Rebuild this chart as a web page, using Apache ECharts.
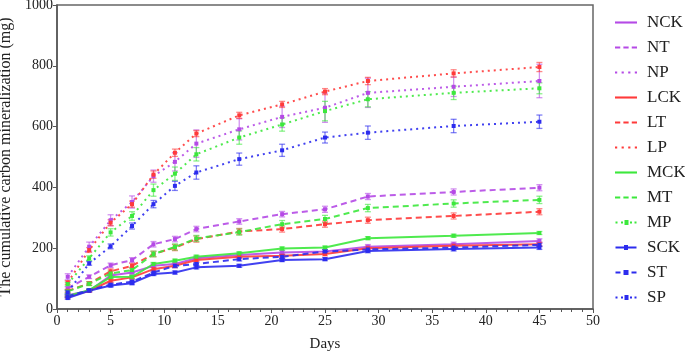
<!DOCTYPE html>
<html>
<head>
<meta charset="utf-8">
<script src="https://cdn.jsdelivr.net/npm/echarts@6/dist/echarts.min.js"></script>
<style>html,body{margin:0;padding:0;background:#fff}#c{width:685px;height:354px}</style>
</head>
<body>
<div id="c"></div>
<script>
const days = [1, 3, 5, 7, 9, 11, 13, 17, 21, 25, 29, 37, 45];
const seriesNames = ['NCK', 'NT', 'NP', 'LCK', 'LT', 'LP', 'MCK', 'MT', 'MP', 'SCK', 'ST', 'SP'];

const NCK = [45, 60, 110, 120, 142, 148, 167, 178, 186, 189, 205, 213, 224];
const NT  = [68, 106, 144, 161, 213, 230, 263, 288, 312, 328, 370, 385, 399];
const NP  = [106, 205, 292, 352, 437, 484, 544, 591, 632, 662, 711, 731, 750];
const LCK = [40, 60, 93, 104, 131, 142, 161, 172, 175, 181, 200, 208, 213];
const LT  = [60, 84, 124, 142, 181, 202, 230, 255, 263, 279, 292, 306, 320];
const LP  = [87, 194, 284, 345, 442, 514, 577, 637, 673, 715, 750, 775, 796];
const MCK = [43, 62, 105, 106, 148, 159, 172, 183, 199, 202, 233, 241, 250];
const MT  = [58, 83, 117, 128, 181, 204, 232, 253, 279, 296, 332, 347, 359];
const MP  = [82, 167, 252, 306, 391, 445, 509, 564, 607, 651, 690, 711, 726];
const SCK = [36, 60, 77, 85, 115, 120, 137, 142, 161, 164, 191, 197, 202];
const ST  = [42, 62, 80, 90, 120, 142, 148, 164, 172, 189, 196, 202, 211];
const SP  = [55, 150, 206, 273, 345, 405, 449, 493, 522, 564, 580, 602, 616];

const NCK_err = [4, 4, 5, 5, 6, 6, 6, 6, 6, 6, 7, 7, 7];
const NT_err  = [5, 6, 7, 8, 9, 9, 9, 9, 9, 10, 10, 10, 10];
const NP_err  = [10, 15, 18, 20, 20, 30, 45, 35, 35, 48, 48, 32, 55];
const LCK_err = [4, 4, 5, 5, 6, 6, 6, 6, 6, 6, 7, 7, 7];
const LT_err  = [5, 6, 8, 8, 9, 10, 10, 10, 10, 10, 10, 10, 10];
const LP_err  = [6, 8, 10, 10, 12, 12, 10, 10, 10, 10, 12, 12, 15];
const MCK_err = [4, 4, 5, 5, 5, 5, 5, 5, 5, 5, 5, 5, 5];
const MT_err  = [5, 6, 8, 9, 9, 10, 10, 10, 12, 12, 12, 12, 12];
const MP_err  = [6, 8, 12, 14, 20, 22, 22, 22, 22, 32, 25, 22, 18];
const SCK_err = [4, 4, 5, 5, 5, 5, 5, 5, 5, 5, 6, 6, 6];
const ST_err  = [4, 4, 5, 5, 6, 6, 6, 6, 6, 6, 6, 6, 6];
const SP_err  = [5, 6, 8, 10, 12, 15, 22, 20, 20, 18, 22, 22, 22];

const values = {NCK, NT, NP, LCK, LT, LP, MCK, MT, MP, SCK, ST, SP};
const errors = {NCK: NCK_err, NT: NT_err, NP: NP_err, LCK: LCK_err, LT: LT_err, LP: LP_err,
                MCK: MCK_err, MT: MT_err, MP: MP_err, SCK: SCK_err, ST: ST_err, SP: SP_err};

const PURPLE = '#B54AE6', RED = '#FF3A3A', GREEN = '#3CE83C', BLUE = '#2C2CEE';
const colorOf = n => n[0] === 'N' ? PURPLE : n[0] === 'L' ? RED : n[0] === 'M' ? GREEN : BLUE;
const kindOf = n => n.endsWith('CK') ? 'solid' : n.endsWith('T') ? 'dashed' : 'dotted';
const dotted = ['MP', 'SCK', 'ST', 'SP'];

const icons = {
  solid: 'path://M0,0h21v2h-21z',
  dashed: 'path://M0,0h5v2h-5zM8,0h5v2h-5zM16,0h5v2h-5z',
  dotted: 'path://M0,0h2v2h-2zM6,0h2v2h-2zM12,0h2v2h-2zM18,0h2v2h-2z'
};
const iconsDot = {
  solid: 'path://M0,0h21v2h-21zM8.5,-1.5h4v5h-4z',
  dashed: 'path://M0,0h5v2h-5zM8,-1.5h5v5h-5zM16,0h5v2h-5z',
  dotted: 'path://M0,0h2v2h-2zM5.5,0h2v2h-2zM9,-1.5h4v5h-4zM14.5,0h2v2h-2zM19,0h2v2h-2z'
};

const FONT = 'Liberation Serif';
const series = [];
seriesNames.forEach(n => {
  const c = colorOf(n);
  const k = kindOf(n);
  series.push({
    name: n + '_err', type: 'custom', silent: true, z: 2,
    itemStyle: {color: c},
    data: days.map((d, i) => [d, values[n][i] - errors[n][i], values[n][i] + errors[n][i]]),
    renderItem: function (params, api) {
      const lo = api.coord([api.value(0), api.value(1)]);
      const hi = api.coord([api.value(0), api.value(2)]);
      const col = api.visual('color');
      const st = {stroke: col, lineWidth: 1.3, opacity: 0.6};
      return {type: 'group', children: [
        {type: 'line', shape: {x1: lo[0], y1: lo[1], x2: hi[0], y2: hi[1]}, style: st},
        {type: 'line', shape: {x1: lo[0] - 3, y1: lo[1], x2: lo[0] + 3, y2: lo[1]}, style: st},
        {type: 'line', shape: {x1: hi[0] - 3, y1: hi[1], x2: hi[0] + 3, y2: hi[1]}, style: st}
      ]};
    }
  });
  series.push({
    name: n, type: 'line', z: 3,
    data: days.map((d, i) => [d, values[n][i]]),
    symbol: 'rect', symbolSize: 4,
    itemStyle: {color: c},
    lineStyle: {color: c, width: 2, opacity: 0.9,
      type: k === 'solid' ? 'solid' : k === 'dashed' ? [6, 4] : [2, 4]},
    emphasis: {disabled: true}
  });
});

const chart = echarts.init(document.getElementById('c'), null, {renderer: 'canvas'});
chart.setOption({
  animation: false,
  backgroundColor: '#fff',
  grid: {left: 57, right: 92, top: 5, bottom: 45, containLabel: false, outerBoundsMode: 'none',
         show: true, borderColor: '#666', borderWidth: 1.5, backgroundColor: 'transparent'},
  legend: {
    orient: 'vertical', left: 610, top: 9, itemWidth: 22, itemHeight: 5, itemGap: 8,
    selectedMode: false,
    textStyle: {fontFamily: FONT, fontSize: 17, color: '#222', lineHeight: 17, padding: [0, 0, 0, 5]},
    data: seriesNames.map(n => ({name: n, icon: (dotted.includes(n) ? iconsDot : icons)[kindOf(n)]}))
  },
  xAxis: {
    type: 'value', min: 0, max: 50, interval: 5,
    name: 'Days', nameLocation: 'middle', nameGap: 28,
    nameTextStyle: {fontFamily: FONT, fontSize: 15, color: '#222'},
    axisLine: {lineStyle: {color: '#555', width: 1.5}},
    axisTick: {length: 4, lineStyle: {color: '#555'}},
    minorTick: {show: true, splitNumber: 5, length: 3, lineStyle: {color: '#555'}},
    axisLabel: {fontFamily: FONT, fontSize: 14, color: '#222', margin: 5},
    splitLine: {show: false}
  },
  yAxis: {
    type: 'value', min: 0, max: 1000, interval: 200,
    name: 'The cumulative carbon mineralization (mg)', nameLocation: 'middle', nameGap: 36,
    nameTextStyle: {fontFamily: FONT, fontSize: 16, color: '#222'},
    axisLine: {show: true, lineStyle: {color: '#555', width: 1.5}},
    axisTick: {show: true, length: 4, lineStyle: {color: '#555'}},
    axisLabel: {fontFamily: FONT, fontSize: 14, color: '#222', margin: 4, formatter: v => String(v)},
    splitLine: {show: false}
  },
  series: series
});
</script>
</body>
</html>
